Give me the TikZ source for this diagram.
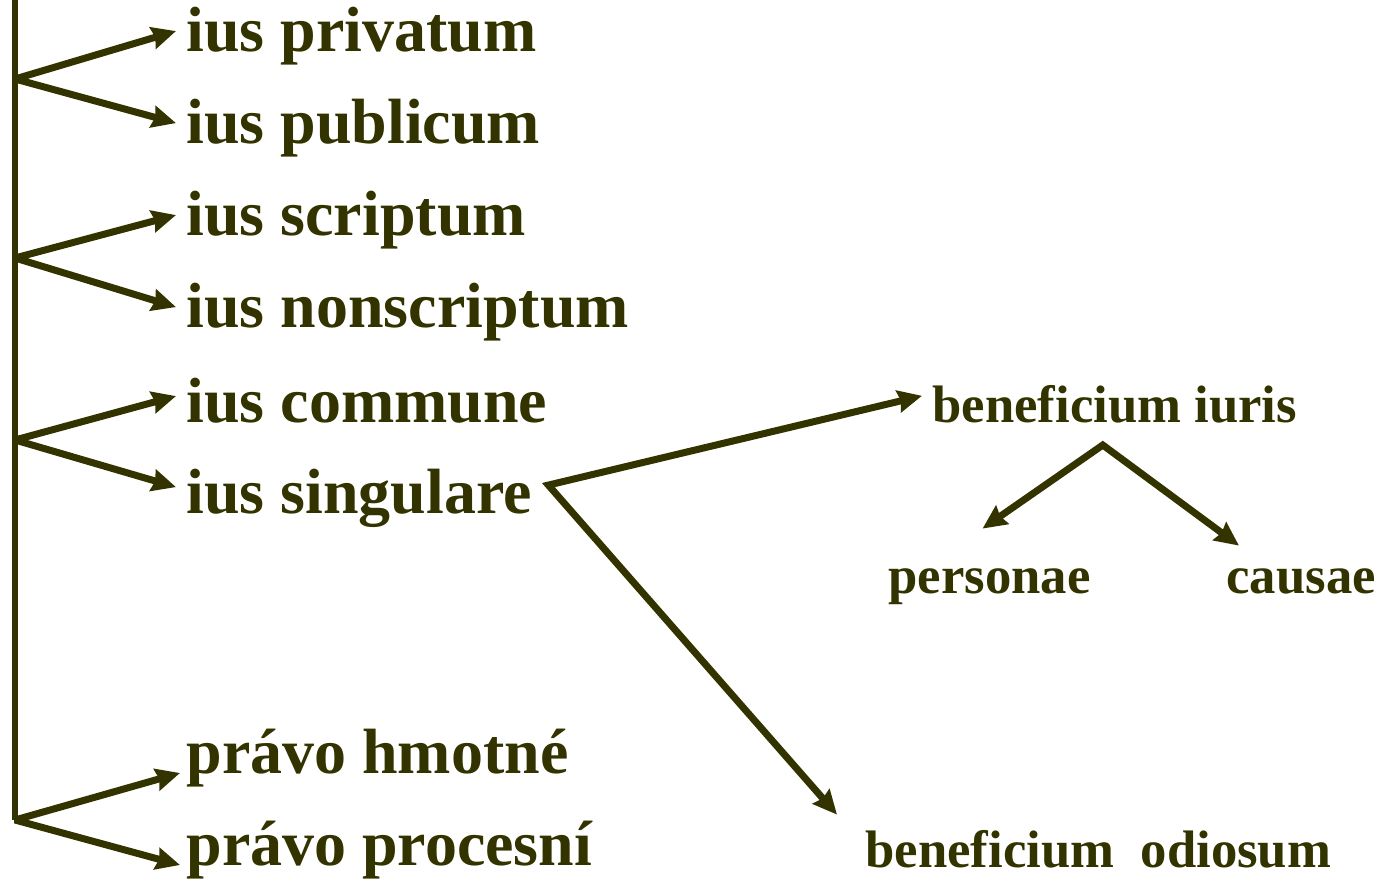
\documentclass[tikz,border=0pt]{standalone}
\usepackage{fontspec}
\setmainfont{Liberation Serif}
\usetikzlibrary{arrows.meta,calc}
\definecolor{lawink}{HTML}{333300}
\begin{document}
\begin{tikzpicture}[x=0.02cm,y=0.02cm,
                    line width=0.14cm,color=lawink,
                    >={Stealth[length=0.48cm,width=0.44cm,inset=0.05cm]},
                    big node/.style={anchor=base west,inner xsep=0.14cm,inner ysep=0pt,
                      text height=31pt,text depth=7.2pt,font=\fontsize{36.4}{40}\selectfont\bfseries},
                    small node/.style={anchor=base west,inner sep=0pt,
                      text height=21pt,text depth=6pt,font=\fontsize{30}{34}\selectfont\bfseries}
                   ]
  \useasboundingbox (0,0) rectangle (1386,880);

  \coordinate (top) at (15,885);
  \coordinate (b1) at (15,801);
  \coordinate (b2) at (15,622);
  \coordinate (b3) at (15,440);
  \coordinate (b4) at (15,60);

  \node[big node] (priv) at (176,828) {ius privatum};
  \node[big node] (publ) at (176,736) {ius publicum};
  \node[big node] (scrip) at (176,644) {ius scriptum};
  \node[big node] (nonscr) at (176,552) {ius nonscriptum};
  \node[big node] (comm) at (176,458) {ius commune};
  \node[big node] (sing) at (176,367) {ius singulare};
  \node[big node] (hmot) at (176,107) {právo hmotné};
  \node[big node] (proc) at (176,15) {právo procesní};

  \node[small node] (biur) at (929,458) {beneficium iuris};
  \node[small node] (pers) at (885,287) {personae};
  \node[small node] (caus) at (1223,287) {causae};
  \node[small node] (odio) at (862,13) {beneficium\ \ odiosum};

  \draw (top) -- (b4);
  \draw[<->,line join=bevel] (priv.west) -- (b1) -- (publ.west);
  \draw[<->,line join=bevel] (scrip.west) -- (b2) -- (nonscr.west);
  \draw[<->,line join=bevel] ($(comm.west)+(0,5)$) -- (b3) -- ($(sing.west)+(0,5)$);
  \draw[<->,line join=bevel] ($(hmot.base west)+(4,0)$) -- (b4) -- ($(proc.base west)+(4,0)$);

  \draw[<->] ($(biur.west)+(-7,13)$) -- ($(sing.east)+(6,7)$) -- ($(odio.north west)+(-25,12)$);
  \draw[<->] ($(pers.north)+(-7,24)$) -- ($(biur.south)+(-12,-9)$) -- ($(caus.north west)+(16,7)$);
\end{tikzpicture}
\end{document}
